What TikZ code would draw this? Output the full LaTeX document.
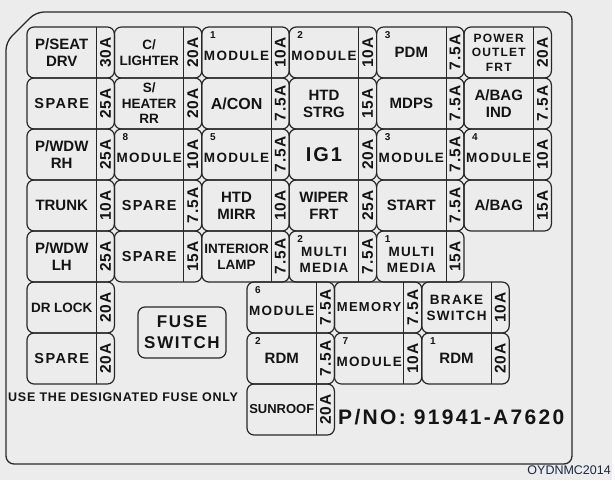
\documentclass[tikz,border=0pt]{standalone}
\usepackage{fontspec}
\setmainfont{Liberation Sans}
\newfontfamily\widefont[LetterSpace=10]{Liberation Sans}
\newfontfamily\ampsfont[LetterSpace=6]{Liberation Sans}
\newfontfamily\pnofont[LetterSpace=11]{Liberation Sans}

\definecolor{boxgray}{RGB}{236,236,236}
\definecolor{linegray}{RGB}{40,40,40}
\definecolor{inkblack}{RGB}{20,20,20}
\definecolor{codeblue}{RGB}{28,38,66}

\tikzset{
  cellbox/.style={draw=linegray, line width=1.2pt, rounded corners=7pt},
  sepline/.style={draw=linegray, line width=1.1pt},
  lbl/.style={text=inkblack, align=center, inner sep=0pt,
    font=\bfseries\fontsize{15}{17}\selectfont},
  tight/.style={font=\bfseries\fontsize{13.5}{16}\selectfont},
  wide/.style={font=\widefont\bfseries\fontsize{13.5}{16}\selectfont},
  spare/.style={font=\widefont\bfseries\fontsize{14.5}{16}\selectfont},
  amp/.style={rotate=90, text=inkblack, inner sep=0pt,
    font=\ampsfont\bfseries\fontsize{15.5}{16}\selectfont},
  num/.style={text=inkblack, inner sep=0pt,
    font=\bfseries\fontsize{10}{10}\selectfont},
}

% one fuse: [label options]{name}{x}{y}{label}{rating}
\newcommand{\fusecell}[6][]{%
  \coordinate (#2) at (#3,#4);
  \draw[cellbox] (#2) rectangle ++(87.4,51);
  \draw[sepline] ([xshift=69.5pt]#2) -- ++(0,51);
  \node[lbl,#1] (#2-lbl) at ([shift={(34.75,25.5)}]#2) {#5};
  \node[amp] (#2-amp) at ([shift={(78.5,25.5)}]#2) {#6};
}
\newcommand{\fusenum}[2]{\node[num] (#1-num) at ([shift={(11,8.5)}]#1) {#2};}

\begin{document}
\begin{tikzpicture}[x=1pt,y=-1pt]
  \useasboundingbox (0,0) rectangle (615,487);
  \fill[white] (0,0) rectangle (615,487);
  \fill[boxgray] (0,0) rectangle (612,480);

  % outer frame
  \draw[linegray, line width=1.3pt, rounded corners=8pt]
    (6,42) -- (36,12) -- (572,12) -- (572,464) -- (6,464) -- cycle;

  % row 1
  \fusecell{pseat}{27}{27}{P/SEAT\\DRV}{30A}
  \fusecell[tight]{lighter}{114.4}{27}{C/\\LIGHTER}{20A}
  \fusecell[wide,yshift=-3pt]{moduleA}{201.8}{27}{MODULE}{10A}
  \fusenum{moduleA}{1}
  \fusecell[wide,yshift=-3pt]{moduleB}{289.2}{27}{MODULE}{10A}
  \fusenum{moduleB}{2}
  \fusecell{pdm}{376.6}{27}{PDM}{7.5A}
  \fusenum{pdm}{3}
  \fusecell[font=\widefont\bfseries\fontsize{12}{14.5}\selectfont]{outlet}{464}{27}{POWER\\OUTLET\\FRT}{20A}

  % row 2
  \fusecell[spare]{spareA}{27}{78}{SPARE}{25A}
  \fusecell[font=\bfseries\fontsize{13.5}{15.5}\selectfont]{heater}{114.4}{78}{S/\\HEATER\\RR}{20A}
  \fusecell[font=\bfseries\fontsize{16}{18}\selectfont]{acon}{201.8}{78}{A/CON}{7.5A}
  \fusecell{strg}{289.2}{78}{HTD\\STRG}{15A}
  \fusecell{mdps}{376.6}{78}{MDPS}{7.5A}
  \fusecell{bagind}{464}{78}{A/BAG\\IND}{7.5A}

  % row 3
  \fusecell{pwdwrh}{27}{129}{P/WDW\\RH}{25A}
  \fusecell[wide,yshift=-3pt]{moduleH}{114.4}{129}{MODULE}{10A}
  \fusenum{moduleH}{8}
  \fusecell[wide,yshift=-3pt]{moduleE}{201.8}{129}{MODULE}{7.5A}
  \fusenum{moduleE}{5}
  \fusecell[font=\widefont\bfseries\fontsize{20}{22}\selectfont]{igone}{289.2}{129}{IG1}{20A}
  \fusecell[wide,yshift=-3pt]{moduleC}{376.6}{129}{MODULE}{7.5A}
  \fusenum{moduleC}{3}
  \fusecell[wide,yshift=-3pt]{moduleD}{464}{129}{MODULE}{10A}
  \fusenum{moduleD}{4}

  % row 4
  \fusecell{trunk}{27}{180}{TRUNK}{10A}
  \fusecell[spare]{spareB}{114.4}{180}{SPARE}{7.5A}
  \fusecell{mirr}{201.8}{180}{HTD\\MIRR}{10A}
  \fusecell{wiper}{289.2}{180}{WIPER\\FRT}{25A}
  \fusecell{start}{376.6}{180}{START}{7.5A}
  \fusecell{abag}{464}{180}{A/BAG}{15A}

  % row 5
  \fusecell{pwdwlh}{27}{231}{P/WDW\\LH}{25A}
  \fusecell[spare]{spareC}{114.4}{231}{SPARE}{15A}
  \fusecell[tight]{lamp}{201.8}{231}{INTERIOR\\LAMP}{7.5A}
  \fusecell[wide,yshift=-3pt]{mediaB}{289.2}{231}{MULTI\\MEDIA}{7.5A}
  \fusenum{mediaB}{2}
  \fusecell[wide,yshift=-3pt]{mediaA}{376.6}{231}{MULTI\\MEDIA}{15A}
  \fusenum{mediaA}{1}

  % left column, lower
  \fusecell[tight]{drlock}{27}{282}{DR LOCK}{20A}
  \fusecell[spare]{spareD}{27}{333}{SPARE}{20A}

  % right block
  \fusecell[wide,yshift=-3pt]{moduleF}{247}{282}{MODULE}{7.5A}
  \fusenum{moduleF}{6}
  \fusecell[font=\widefont\bfseries\fontsize{13}{15}\selectfont]{memory}{334.4}{282}{MEMORY}{7.5A}
  \fusecell[wide]{brake}{421.8}{282}{BRAKE\\SWITCH}{10A}
  \fusecell{rdmB}{247}{333}{RDM}{7.5A}
  \fusenum{rdmB}{2}
  \fusecell[wide,yshift=-3pt]{moduleG}{334.4}{333}{MODULE}{10A}
  \fusenum{moduleG}{7}
  \fusecell{rdmA}{421.8}{333}{RDM}{20A}
  \fusenum{rdmA}{1}
  \fusecell[font=\bfseries\fontsize{13}{15}\selectfont]{sunroof}{247}{384}{SUNROOF}{20A}

  % fuse switch
  \draw[cellbox] (138,307) rectangle (226,358);
  \node[lbl, font=\widefont\bfseries\fontsize{17}{21}\selectfont] (fuseswitch) at (182,332.5) {FUSE\\SWITCH};

  \node[text=inkblack, inner sep=0pt, anchor=west,
    font=\ampsfont\bfseries\fontsize{12.5}{12.5}\selectfont] (usenote) at (8,397) {USE THE DESIGNATED FUSE ONLY};
  \node[text=inkblack, inner sep=0pt, anchor=west,
    font=\pnofont\bfseries\fontsize{21}{21}\selectfont] (pno) at (338,417) {P/NO: 91941-A7620};
  \node[text=codeblue, inner sep=0pt, anchor=east,
    font=\fontsize{12.5}{12.5}\selectfont] (code) at (611,470) {OYDNMC2014};
\end{tikzpicture}
\end{document}
